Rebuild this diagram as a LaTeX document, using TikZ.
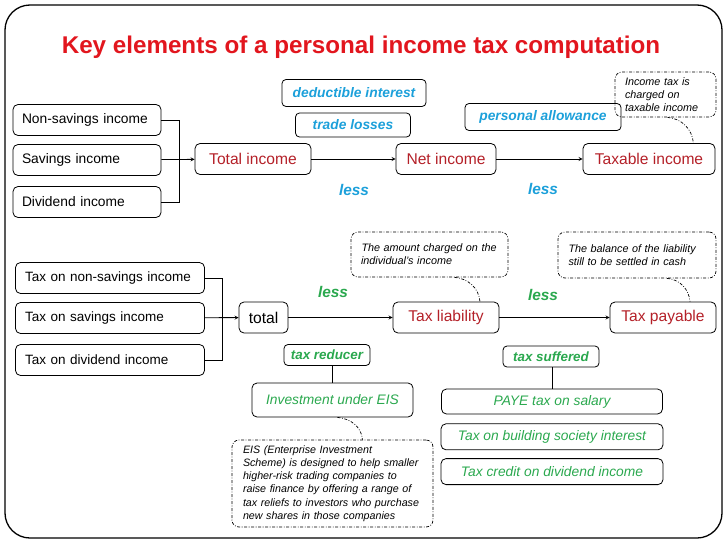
\documentclass[tikz,border=0pt]{standalone}
\usepackage{fontspec}
\setmainfont{Liberation Sans}
\usetikzlibrary{positioning}

\definecolor{titlered}{RGB}{226,22,30}
\definecolor{resred}{RGB}{180,32,40}
\definecolor{lessblue}{RGB}{28,160,218}
\definecolor{lessgreen}{RGB}{42,168,78}

\begin{document}
\begin{tikzpicture}[x=1pt, y=-1pt,
    inbox/.style={rectangle, draw, rounded corners=5pt, line width=0.8pt, minimum height=31pt, inner xsep=9pt, align=left, font=\fontsize{13.8}{16}\selectfont},
    resbox/.style={rectangle, draw, rounded corners=5pt, line width=0.8pt, minimum height=31pt, inner sep=0pt, text=resred, font=\fontsize{15.6}{18}\selectfont},
    tagbox/.style={rectangle, draw, rounded corners=4pt, line width=0.8pt, inner sep=0pt, font=\fontsize{13.8}{16}\selectfont\bfseries\itshape},
    greenbox/.style={rectangle, draw, rounded corners=5pt, line width=0.8pt, inner sep=0pt, text=lessgreen, font=\fontsize{13.8}{16}\selectfont\itshape},
    note/.style={rectangle, draw, rounded corners=7pt, line width=0.7pt, dash pattern=on 3pt off 1.6pt on 0.8pt off 1.6pt, inner xsep=10pt, align=left, font=\fontsize{10.8}{12.8}\selectfont\itshape},
    noteline/.style={line width=0.7pt, dash pattern=on 3pt off 1.6pt on 0.8pt off 1.6pt},
    lesslabel/.style={font=\fontsize{15.4}{18}\selectfont\bfseries\itshape},
    link/.style={line width=0.8pt},
    arrow/.style={->, >=stealth, line width=0.8pt}
]
    \useasboundingbox (0,0) rectangle (728,546);
    \draw[line width=1.3pt, rounded corners=25pt] (5,5) rectangle (722,538);

    \node[anchor=base, text=titlered, font=\fontsize{24.2}{28}\selectfont\bfseries] (title) at (361,53) {Key elements of a personal income tax computation};

    % income side
    \node[inbox, minimum width=148pt, text width=130pt] (nsinc) at (87,120) {Non-savings income};
    \node[inbox, minimum width=148pt, text width=130pt] (savinc) at (87,160) {Savings income};
    \node[inbox, minimum width=148pt, text width=130pt] (divinc) at (87,202) {Dividend income};
    \coordinate (ijoin) at (179,160);

    \node[resbox, minimum width=116pt] (totinc) at (253,159) {Total income};
    \node[resbox, minimum width=100pt] (netinc) at (446,159) {Net income};
    \node[resbox, minimum width=132pt] (taxinc) at (649,159) {Taxable income};

    \node[tagbox, text=lessblue, minimum width=144pt, minimum height=27pt] (dedint) at (354,93) {deductible interest};
    \node[tagbox, text=lessblue, minimum width=115pt, minimum height=24pt] (trloss) at (353,125) {trade losses};
    \node[tagbox, text=lessblue, minimum width=156pt, minimum height=27pt] (persall) at (543,117) {personal allowance};
    \node[lesslabel, text=lessblue] (less1) at (354,190) {less};
    \node[lesslabel, text=lessblue] (less2) at (543,189) {less};

    \node[note, minimum width=101pt, minimum height=45pt, text width=81pt] (note1) at (665.5,94.5) {Income tax is\\charged on\\taxable income};

    \draw[link] (nsinc.east) -- (nsinc.east -| ijoin) -- (divinc.east -| ijoin) -- (divinc.east);
    \draw[arrow] (savinc) -- (totinc);
    \draw[arrow] (totinc) -- (netinc);
    \draw[arrow] (netinc) -- (taxinc);
    \draw[noteline] ([xshift=2pt]note1.south) to[out=-5, in=95] ([xshift=-22pt]taxinc.north east);

    % tax side
    \node[inbox, minimum width=189pt, text width=173pt, inner xsep=8pt, font=\fontsize{13.5}{16}\selectfont] (nstax) at (110,278) {\hspace*{1.5pt}Tax on non-savings income};
    \node[inbox, minimum width=189pt, text width=173pt, inner xsep=8pt, font=\fontsize{13.5}{16}\selectfont] (savtax) at (110,318) {\hspace*{1.5pt}Tax on savings income};
    \node[inbox, minimum width=189pt, text width=173pt, inner xsep=8pt, font=\fontsize{13.5}{16}\selectfont] (divtax) at (110,360) {\hspace*{1.5pt}Tax on dividend income};
    \coordinate (tjoin) at (222,318);

    \node[resbox, minimum width=49pt, text=black] (total) at (263.5,317.5) {total};
    \node[resbox, minimum width=106pt] (taxliab) at (446,317.5) {Tax liability};
    \node[resbox, minimum width=106pt] (taxpay) at (663,317.5) {Tax payable};

    \node[lesslabel, text=lessgreen] (less3) at (333,292) {less};
    \node[lesslabel, text=lessgreen] (less4) at (543,295) {less};

    \node[note, minimum width=157pt, minimum height=45pt, text width=141pt, inner xsep=8pt] (note2) at (429.5,254.5) {\hspace*{2.5pt}The amount charged on the\\\hspace*{2pt}individual's income};
    \node[note, minimum width=158pt, minimum height=46pt, text width=142pt, inner xsep=8pt] (note3) at (637,255) {\hspace*{2.5pt}The balance of the liability\\\hspace*{2.5pt}still to be settled in cash};

    \node[tagbox, text=lessgreen, minimum width=86pt, minimum height=21pt, font=\fontsize{13.4}{16}\selectfont\bfseries\itshape] (reducer) at (327,355) {tax reducer};
    \node[tagbox, text=lessgreen, minimum width=96pt, minimum height=21pt, font=\fontsize{13.4}{16}\selectfont\bfseries\itshape] (suffered) at (551,356.5) {tax suffered};

    \node[greenbox, minimum width=161pt, minimum height=34pt] (invest) at (332.5,400) {Investment under EIS};
    \node[greenbox, minimum width=221pt, minimum height=25pt] (paye) at (552,401.5) {PAYE tax on salary};
    \node[greenbox, minimum width=222pt, minimum height=26pt, below=9pt of paye] (bsint) {Tax on building society interest};
    \node[greenbox, minimum width=222pt, minimum height=26pt, below=8pt of bsint] (divcred) {Tax credit on dividend income};

    \node[note, minimum width=201pt, minimum height=87pt, text width=185pt, inner xsep=8pt, font=\fontsize{10.7}{13.3}\selectfont\itshape] (eisnote) at (332.5,483.5) {\hspace*{3pt}EIS (Enterprise Investment\\\hspace*{3pt}Scheme) is designed to help smaller\\\hspace*{3pt}higher-risk trading companies to\\\hspace*{3pt}raise finance by offering a range of\\\hspace*{3pt}tax reliefs to investors who purchase\\\hspace*{3pt}new shares in those companies};

    \draw[link] (nstax.east) -- (nstax.east -| tjoin) -- (divtax.east -| tjoin) -- (divtax.east);
    \draw[arrow] (savtax) -- (total);
    \draw[arrow] (total) -- (taxliab);
    \draw[arrow] (taxliab) -- (taxpay);
    \draw[link] (invest.north) -- (invest.north |- reducer.south);
    \draw[link] (paye.north) -- (paye.north |- suffered.south);
    \draw[noteline] ([xshift=25pt]note2.south) to[out=-5, in=95] ([xshift=34pt]taxliab.north);
    \draw[noteline] ([xshift=30pt]note3.south) to[out=-5, in=95] ([xshift=27pt]taxpay.north);
    \draw[noteline] ([xshift=5pt]invest.south) to[out=-5, in=95] ([xshift=30pt]eisnote.north);
\end{tikzpicture}
\end{document}
